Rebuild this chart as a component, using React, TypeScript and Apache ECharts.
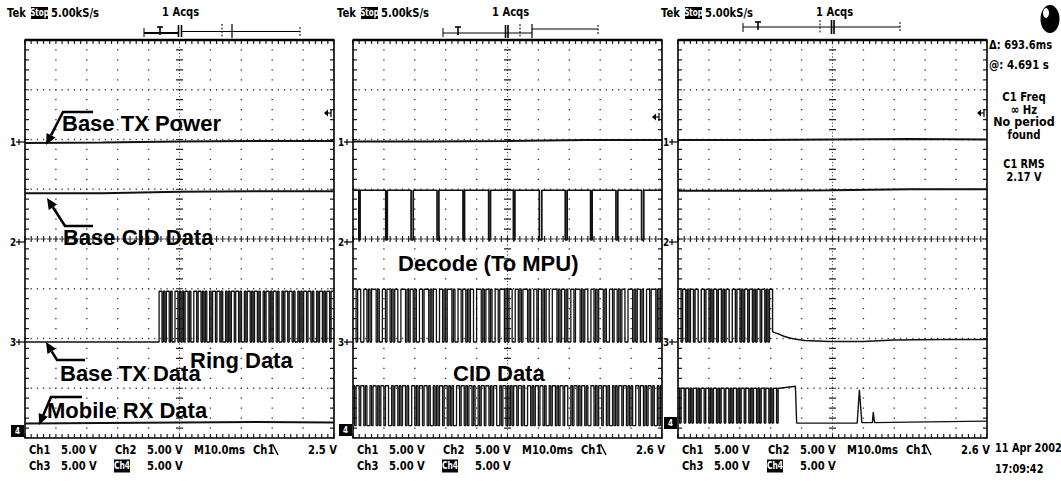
import React, { useEffect, useRef } from "react";
import * as echarts from "echarts";

// ---------------- layout ----------------
const PANEL_LEFT = [25, 353, 678];
const PANEL_TOP = 40;
const PANEL_W = 309;
const PANEL_H = 398;

// ---------------- data (graticule divisions: x 0..10, y 0..8 from bottom) ----------------
// Ch1 : Base TX Power (flat)
const flatX = [0, 2.5, 5, 7.5, 10];
const ch1P1 = [5.93, 5.94, 5.96, 5.97, 5.97];
const ch1P2 = [5.96, 5.96, 5.97, 5.99, 5.99];
const ch1P3 = [5.99, 5.99, 6.0, 6.01, 6.0];

// Ch2 : Base CID Data (flat in panels 1 & 3) / Decode to MPU (panel 2)
const ch2P1 = [4.92, 4.92, 4.95, 4.96, 4.96];
const ch2P3 = [4.97, 4.97, 4.98, 5.0, 5.0];
const ch2HighP2 = 4.98;
const ch2LowP2 = 3.98;
const ch2PulseStart = [0.19, 1.06, 1.88, 2.72, 3.56, 4.39, 5.19, 6.03, 6.87, 7.69, 8.51, 9.34];
const ch2PulseWidth = [0.04, 0.05, 0.07, 0.06, 0.05, 0.06, 0.05, 0.08, 0.06, 0.05, 0.06, 0.07];

// Ch3 : Base TX Data / Ring Data
const ch3Low = 1.93;
const ch3High = 2.95;
const ringStart = 4.34;
const ringEnd = 10;
const ringBits =
  "1101011010011010101101001101101010010110110100101011011010010110101101001011010110100101101101001010110110100101101011011";
const txBitsP2 =
  "11011001101011101001101101011001110101101001101110101100110101110100110110101100111010110100110111010110011010111010011011010110011101011010011011101011001101011101001101101011001110101101001101110101";
const txBitsP3 = "1101101011011001101101011011010110011011010110110101101101011";
const txEndP3 = 3.06;
const ch3TailX = [3.06, 3.13, 3.3, 3.45, 3.62, 3.77, 4.1, 4.9, 6.0, 7.0, 8.5, 10];
const ch3TailY = [2.14, 2.12, 2.08, 2.04, 2.01, 1.99, 1.96, 1.94, 1.94, 1.97, 1.98, 1.98];

// Ch4 : Mobile RX Data / CID Data
const ch4Low = 0.3;
const ch4High = 1.05;
const ch4P1 = [0.29, 0.3, 0.31, 0.32, 0.31];
const cidBitsP2 =
  "10110110100101101011011001011010110100110101101101001010110110101001101101011010010110110101100101101010110110100110101101101001011010110110010110101101001101011011010010101101101010011011010110100101";
const cidBitsP3 = "101101101011010110110101101011011010110101101101011010110110101101";
const cidEndP3 = 3.29;
const ch4TailX = [3.29, 3.3, 3.8, 3.84, 5.8, 5.87, 5.95, 6.29, 6.32, 6.36, 7.5, 10];
const ch4TailY = [1.0, 1.0, 1.04, 0.3, 0.3, 0.97, 0.31, 0.31, 0.52, 0.31, 0.32, 0.34];

// ---------------- texts ----------------
const trigLevels = ["2.5 V", "2.6 V", "2.6 V"];
const measureLines = ["C1 Freq", "\u221e Hz", "No period", "found"];
const rmsLines = ["C1 RMS", "2.17 V"];

const SCOPE_FONT = '"DejaVu Sans", sans-serif';
const LABEL_FONT = '"Liberation Sans", Arial, sans-serif';

const zip = (xs: number[], ys: number[]) => xs.map((x, i) => [x, ys[i]]);

function square(start: number, end: number, bits: string, hi: number, lo: number) {
  const n = bits.length;
  const u = (end - start) / n;
  const pts: number[][] = [];
  for (let i = 0; i < n; i++) {
    const v = bits[i] === "1" ? hi : lo;
    pts.push([start + i * u, v], [start + (i + 1) * u, v]);
  }
  return pts;
}

function pulses(starts: number[], widths: number[], hi: number, lo: number) {
  const pts: number[][] = [[0, hi]];
  starts.forEach((s, i) => {
    pts.push([s, hi], [s, lo], [s + widths[i], lo], [s + widths[i], hi]);
  });
  pts.push([10, hi]);
  return pts;
}

function graticule(p: number) {
  return {
    type: "custom",
    xAxisIndex: p,
    yAxisIndex: p,
    data: [[5, 4]],
    silent: true,
    clip: false,
    z: 1,
    renderItem: (_params: any, api: any) => {
      const [x0, y0] = api.coord([0, 0]);
      const [x1, y1] = api.coord([10, 8]);
      const dx = (x1 - x0) / 10;
      const dy = (y0 - y1) / 8;
      const ch: any[] = [];
      const dot = "#3a3a3a";
      for (let i = 1; i < 10; i++) {
        if (i === 5) continue;
        const x = x0 + i * dx;
        ch.push({
          type: "line",
          shape: { x1: x, y1: y1 - 0.6, x2: x, y2: y0 },
          style: { stroke: dot, lineWidth: 1.4, lineDash: [1.2, dy / 5 - 1.2] },
        });
      }
      for (let j = 1; j < 8; j++) {
        if (j === 4) continue;
        const y = y0 - j * dy;
        ch.push({
          type: "line",
          shape: { x1: x0 - 0.6, y1: y, x2: x1, y2: y },
          style: { stroke: dot, lineWidth: 1.4, lineDash: [1.2, dx / 5 - 1.2] },
        });
      }
      const cx = x0 + 5 * dx;
      const cy = y0 - 4 * dy;
      ch.push({
        type: "line",
        shape: { x1: x0, y1: cy, x2: x1, y2: cy },
        style: { stroke: "#222", lineWidth: 1.1, lineDash: [2.2, 0.9] },
      });
      ch.push({
        type: "line",
        shape: { x1: x0 - 0.6, y1: cy, x2: x1, y2: cy },
        style: { stroke: "#222", lineWidth: 6, lineDash: [1.2, dx / 5 - 1.2] },
      });
      ch.push({
        type: "line",
        shape: { x1: cx, y1: y1, x2: cx, y2: y0 },
        style: { stroke: "#333", lineWidth: 1, lineDash: [1, 2.3] },
      });
      ch.push({
        type: "line",
        shape: { x1: cx, y1: y1 - 0.6, x2: cx, y2: y0 },
        style: { stroke: "#222", lineWidth: 7, lineDash: [1.2, dy / 5 - 1.2] },
      });
      ch.push({
        type: "line",
        shape: { x1: x0 + 2, y1: y1 - 0.6, x2: x0 + 2, y2: y0 },
        style: { stroke: "#222", lineWidth: 4, lineDash: [1.2, dy / 5 - 1.2] },
      });
      ch.push({
        type: "line",
        shape: { x1: x1 - 2, y1: y1 - 0.6, x2: x1 - 2, y2: y0 },
        style: { stroke: "#222", lineWidth: 4, lineDash: [1.2, dy / 5 - 1.2] },
      });
      ch.push({
        type: "line",
        shape: { x1: x0 - 0.6, y1: y1 + 2, x2: x1, y2: y1 + 2 },
        style: { stroke: "#222", lineWidth: 4, lineDash: [1.2, dx / 5 - 1.2] },
      });
      ch.push({
        type: "line",
        shape: { x1: x0 - 0.6, y1: y0 - 2, x2: x1, y2: y0 - 2 },
        style: { stroke: "#222", lineWidth: 4, lineDash: [1.2, dx / 5 - 1.2] },
      });
      ch.push({
        type: "rect",
        shape: { x: x0, y: y1, width: x1 - x0, height: y0 - y1 },
        style: { fill: "none", stroke: "#000", lineWidth: 1.6 },
      });
      ch.push({
        type: "line",
        shape: { x1: x0, y1: y1, x2: x1, y2: y1 },
        style: { stroke: "#000", lineWidth: 2.4 },
      });
      return { type: "group", children: ch };
    },
  };
}

function trace(p: number, data: number[][], width = 1.7) {
  return {
    type: "line",
    xAxisIndex: p,
    yAxisIndex: p,
    data,
    symbol: "none",
    showSymbol: false,
    silent: true,
    z: 5,
    lineStyle: { color: "#111", width },
  };
}

function T(x: number, y: number, text: string, o: any = {}) {
  const align = o.align || "left";
  return {
    type: "text",
    x,
    y,
    scaleX: o.sx === undefined ? 0.8 : o.sx,
    silent: true,
    z: 20,
    style: {
      text,
      fill: o.fill || "#000",
      font: o.font || `bold 12.5px ${SCOPE_FONT}`,
      textAlign: align,
      align,
      textVerticalAlign: "middle",
      verticalAlign: "middle",
    },
  };
}

function L(x1: number, y1: number, x2: number, y2: number, w = 1, dash?: number[]) {
  return {
    type: "line",
    silent: true,
    z: 20,
    shape: { x1, y1, x2, y2 },
    style: { stroke: "#000", lineWidth: w, lineDash: dash },
  };
}

function arrow(pts: number[][]) {
  const tip = pts[pts.length - 1];
  const from = pts[pts.length - 2];
  const dx = tip[0] - from[0];
  const dy = tip[1] - from[1];
  const len = Math.hypot(dx, dy);
  const ux = dx / len;
  const uy = dy / len;
  const hl = 11;
  const hw = 5;
  const bx = tip[0] - ux * hl;
  const by = tip[1] - uy * hl;
  return [
    {
      type: "polyline",
      silent: true,
      z: 20,
      shape: { points: [...pts.slice(0, -1), [bx, by]] },
      style: { stroke: "#000", lineWidth: 2.6, fill: "none" },
    },
    {
      type: "polygon",
      silent: true,
      z: 20,
      shape: {
        points: [tip, [bx - uy * hw, by + ux * hw], [bx + uy * hw, by - ux * hw]],
      },
      style: { fill: "#000" },
    },
  ];
}

function buildGraphic() {
  const g: any[] = [];
  const hx = [0, 330, 654];
  hx.forEach((o) => {
    g.push(T(7 + o, 13, "Tek"));
    g.push({ type: "rect", silent: true, z: 19, shape: { x: 31 + o, y: 7, width: 17, height: 12 }, style: { fill: "#000" } });
    g.push(T(39.5 + o, 13, "Stop", { fill: "#fff", align: "center", font: `bold 10px ${SCOPE_FONT}`, sx: 0.72 }));
    g.push(T(51 + o, 13, "5.00kS/s"));
    g.push(T(162 + o, 12, "1 Acqs"));
  });
  // record bars
  g.push(L(144, 33, 178, 33, 1.8), L(182, 31.5, 300, 31.5, 1), L(144, 28, 144, 37, 1), L(300, 27, 300, 36, 1, [2, 1.5]));
  g.push(L(157, 27, 163, 27, 1.6), L(160, 27, 160, 35, 1.6), L(178.5, 25, 178.5, 37, 1.6), L(181.5, 25, 181.5, 37, 1.6));
  g.push(L(222, 24, 222, 38, 1, [2, 1.5]), L(232, 24, 232, 38, 1.2));
  g.push(L(443, 33, 532, 33, 1.2), L(532, 29, 598, 29, 1), L(443, 28, 443, 37, 1), L(598, 25, 598, 34, 1, [2, 1.5]));
  g.push(L(455, 27, 461, 27, 1.6), L(458, 27, 458, 35, 1.6), L(505.5, 25, 505.5, 38, 1.6), L(508, 25, 508, 38, 1.6));
  g.push(L(520, 24, 520, 38, 1, [2, 1.5]), L(532, 24, 532, 38, 1.2));
  g.push(L(743, 27, 900, 27, 1.2), L(743, 23, 743, 32, 1), L(900, 22, 900, 31, 1, [2, 1.5]));
  g.push(L(755, 22, 761, 22, 1.6), L(758, 22, 758, 30, 1.6), L(820, 20, 820, 34, 1, [2, 1.5]));
  g.push(L(831.5, 20, 831.5, 34, 1.6), L(834, 20, 834, 34, 1.6));

  // channel markers & trigger arrows
  const grounds = [142, 242, 342];
  const ch4Ground = [431, 430, 423];
  PANEL_LEFT.forEach((pl, p) => {
    grounds.forEach((gy, i) => {
      g.push(T(pl - 15, gy, String(i + 1), { font: `bold 11px ${SCOPE_FONT}` }));
      g.push(L(pl - 9, gy, pl, gy, 1.2), L(pl - 6, gy - 3, pl - 6, gy + 3, 1.2));
    });
    g.push({ type: "rect", silent: true, z: 19, shape: { x: pl - 14, y: ch4Ground[p] - 6, width: 13, height: 12 }, style: { fill: "#000" } });
    g.push(T(pl - 7.5, ch4Ground[p], "4", { fill: "#fff", align: "center", font: `bold 9px ${SCOPE_FONT}` }));
    const rx = pl + PANEL_W - 3;
    const ry = p === 1 ? 117 : 113;
    g.push({
      type: "polygon",
      silent: true,
      z: 20,
      shape: { points: [[rx - 7, ry], [rx - 3, ry - 3.5], [rx - 3, ry + 3.5]] },
      style: { fill: "#000" },
    });
    g.push(L(rx - 4, ry, rx, ry, 1.2), L(rx, ry - 4, rx, ry + 4, 1.2));

    // bottom labels
    const r1 = 450;
    const r2 = 466;
    g.push(T(pl + 4, r1, "Ch1"), T(pl + 36, r1, "5.00 V"), T(pl + 90, r1, "Ch2"), T(pl + 122, r1, "5.00 V"));
    g.push(T(pl + 169, r1, "M10.0ms"), T(pl + 228, r1, "Ch1"), T(pl + 283, r1, trigLevels[p]));
    g.push({
      type: "polyline",
      silent: true,
      z: 20,
      shape: { points: [[pl + 245, 445], [pl + 248, 445], [pl + 253, 455]] },
      style: { stroke: "#000", lineWidth: 1.4, fill: "none" },
    });
    g.push(T(pl + 4, r2, "Ch3"), T(pl + 36, r2, "5.00 V"), T(pl + 122, r2, "5.00 V"));
    g.push({ type: "rect", silent: true, z: 19, shape: { x: pl + 89, y: r2 - 6.5, width: 16, height: 13 }, style: { fill: "#000" } });
    g.push(T(pl + 97, r2, "Ch4", { fill: "#fff", align: "center", font: `bold 10px ${SCOPE_FONT}`, sx: 0.75 }));
  });

  // measurement read-outs
  g.push(T(989, 45, "\u0394: 693.6ms", { font: `bold 12.5px ${SCOPE_FONT}`, sx: 0.8 }));
  g.push(T(989, 65, "@: 4.691 s", { font: `bold 12.5px ${SCOPE_FONT}`, sx: 0.82 }));
  measureLines.forEach((s, i) =>
    g.push(T(1024, 97 + i * 12.5, s, { align: "center", font: `bold 13px ${SCOPE_FONT}`, sx: i === 2 ? 0.86 : 0.78 }))
  );
  rmsLines.forEach((s, i) =>
    g.push(T(1024, 163 + i * 13, s, { align: "center", font: `bold 13px ${SCOPE_FONT}`, sx: 0.75 }))
  );
  g.push(T(995, 448, "11 Apr 2002", { font: `bold 12.5px ${SCOPE_FONT}`, sx: 0.78 }));
  g.push(T(995, 469, "17:09:42", { font: `bold 12.5px ${SCOPE_FONT}`, sx: 0.78 }));

  // Tek logo blob
  g.push({ type: "ellipse", silent: true, z: 20, shape: { cx: 1050, cy: 19, rx: 9.5, ry: 14 }, style: { fill: "#000" } });
  g.push({ type: "ellipse", silent: true, z: 21, shape: { cx: 1046, cy: 13, rx: 3, ry: 5 }, style: { fill: "#fff" } });

  // annotations
  const lf = `bold 22px ${LABEL_FONT}`;
  const big = (x: number, y: number, s: string) => T(x, y, s, { font: lf, sx: 1 });
  g.push(big(62, 123, "Base TX Power"));
  g.push(big(63, 237, "Base CID Data"));
  g.push(big(60, 373, "Base TX Data"));
  g.push(big(190, 360, "Ring Data"));
  g.push(big(47, 410, "Mobile RX Data"));
  g.push(big(398, 263, "Decode (To MPU)"));
  g.push(big(453, 373, "CID Data"));
  g.push(...arrow([[93, 112], [63, 112], [46, 145]]));
  g.push(...arrow([[93, 226], [65, 226], [47, 198]]));
  g.push(...arrow([[85, 360], [57, 360], [46, 342]]));
  g.push(...arrow([[82, 397], [51, 397], [39, 425]]));
  return g;
}

function buildOption() {
  const series: any[] = [0, 1, 2].map(graticule);
  // panel 1
  series.push(trace(0, zip(flatX, ch1P1), 2));
  series.push(trace(0, zip(flatX, ch2P1), 2));
  series.push(trace(0, [[0, ch3Low], [ringStart, ch3Low], ...square(ringStart, ringEnd, ringBits, ch3High, ch3Low)], 1.3));
  series.push(trace(0, zip(flatX, ch4P1), 2));
  // panel 2
  series.push(trace(1, zip(flatX, ch1P2), 2));
  series.push(trace(1, pulses(ch2PulseStart, ch2PulseWidth, ch2HighP2, ch2LowP2), 1.7));
  series.push(trace(1, square(0, 10, txBitsP2, ch3High + 0.04, ch3Low), 1.3));
  series.push(trace(1, square(0, 10, cidBitsP2, ch4High, ch4Low - 0.05), 1.3));
  // panel 3
  series.push(trace(2, zip(flatX, ch1P3), 2));
  series.push(trace(2, zip(flatX, ch2P3), 2));
  series.push(trace(2, [...square(0, txEndP3, txBitsP3, ch3High + 0.04, ch3Low), ...zip(ch3TailX, ch3TailY)], 1.4));
  series.push(trace(2, [...square(0, cidEndP3, cidBitsP3, 1.0, ch4Low), ...zip(ch4TailX, ch4TailY)], 1.4));

  return {
    animation: false,
    backgroundColor: "#ffffff",
    grid: PANEL_LEFT.map((l) => ({ left: l, top: PANEL_TOP, width: PANEL_W, height: PANEL_H, show: false })),
    xAxis: PANEL_LEFT.map((_, i) => ({ type: "value", gridIndex: i, min: 0, max: 10, show: false })),
    yAxis: PANEL_LEFT.map((_, i) => ({ type: "value", gridIndex: i, min: 0, max: 8, show: false })),
    series,
    graphic: { elements: buildGraphic() },
  };
}

export default function App() {
  const ref = useRef<HTMLDivElement>(null);
  useEffect(() => {
    if (!ref.current) return;
    const chart = echarts.init(ref.current, undefined, { renderer: "svg" });
    chart.setOption(buildOption() as any);
    return () => chart.dispose();
  }, []);
  return (
    <div
      ref={ref}
      style={{ position: "fixed", left: 0, top: 0, width: 1061, height: 481, background: "#fff" }}
    />
  );
}
